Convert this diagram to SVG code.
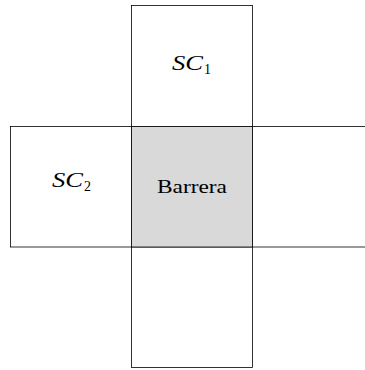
<svg xmlns="http://www.w3.org/2000/svg" width="365" height="370" viewBox="0 0 365 370">
<style>
.box{fill:#ffffff;stroke:#000000;stroke-width:0.8}
.gray{fill:#d9d9d9;stroke:#000000;stroke-width:0.8}
.t{font-family:"Liberation Serif","DejaVu Serif",serif;font-size:19px;fill:#000000}
.it{font-style:italic;font-size:20px}
.sub{font-size:14px}
</style>
<rect width="365" height="370" fill="#ffffff"/>
<g id="top"><rect class="box" x="131.5" y="5.5" width="121" height="121"/>
<text class="t it" x="172" y="70" textLength="31" lengthAdjust="spacingAndGlyphs">SC</text>
<text class="t sub" x="204" y="74">1</text></g>
<g id="left"><rect class="box" x="10.5" y="126.5" width="121" height="120.5"/>
<text class="t it" x="52" y="187" textLength="31" lengthAdjust="spacingAndGlyphs">SC</text>
<text class="t sub" x="84" y="191">2</text></g>
<g id="right"><rect class="box" x="252.5" y="126.5" width="121" height="120.5"/></g>
<g id="bottom"><rect class="box" x="131.5" y="247" width="121" height="120.5"/></g>
<g id="center"><rect class="gray" x="131.5" y="126.5" width="121" height="120.5"/>
<text class="t" x="157" y="193" textLength="70" lengthAdjust="spacingAndGlyphs">Barrera</text></g>
<g id="connectors"></g>
</svg>
